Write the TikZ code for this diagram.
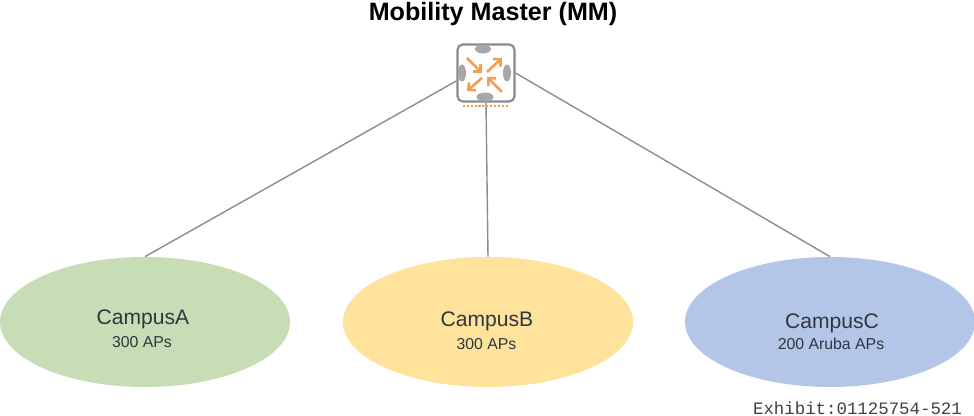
\documentclass[tikz,border=0pt]{standalone}
\usepackage{fontspec}
\setmainfont{Liberation Sans}
\newfontfamily\exhibitfont{Liberation Mono}
\usetikzlibrary{shapes.geometric}
\usetikzlibrary{arrows.meta}
\definecolor{linegray}{HTML}{8C8C8C}
\definecolor{icongray}{HTML}{8A8A8E}
\definecolor{arroworange}{HTML}{F0A050}
\definecolor{labelnavy}{HTML}{30363F}
\definecolor{campusgreen}{HTML}{C6DDB6}
\definecolor{campusyellow}{HTML}{FFE39C}
\definecolor{campusblue}{HTML}{B4C6E7}
\tikzset{campus/.style={ellipse, minimum width = 5.8cm, minimum height = 2.6cm, inner sep = 0pt},
  link/.style={draw = linegray, line width = 0.8pt},
  mainlabel/.style={text = labelnavy, font = \fontsize{12}{14}\selectfont},
  sublabel/.style={text = labelnavy, font = \fontsize{9}{11}\selectfont},
  antenna/.style={fill = icongray!75},
  flow/.style={draw = arroworange, line width = 1.5pt, -{Straight Barb[length=3pt,width=6pt]}}}

\begin{document}
\begin{tikzpicture}
	\useasboundingbox (0,0) rectangle (19.48,8.32);

	\node[campus, fill = campusgreen] (campusA) at (2.9, 1.88) {};
	\node[campus, fill = campusyellow] (campusB) at (9.76, 1.88) {};
	\node[campus, fill = campusblue] (campusC) at (16.6, 1.88) {};

	\node[draw = icongray, line width = 1.2pt, rounded corners = 3pt, fill = white, minimum size = 1.14cm, inner sep = 0pt] (mm) at (9.72, 6.86) {};

	\draw[link] (mm.195) -- (campusA.north);
	\draw[link] (mm.south) -- (campusB.north);
	\draw[link] (mm.east) -- (campusC.north);

	% icon on the switch
	\fill[antenna] (9.66, 7.34) ellipse (0.16 and 0.09);
	\fill[antenna] (9.7, 6.38) ellipse (0.17 and 0.09);
	\fill[antenna] (9.24, 6.86) ellipse (0.08 and 0.17);
	\fill[antenna] (10.14, 6.86) ellipse (0.08 and 0.17);
	\draw[flow] (9.34, 7.16) -- (9.64, 6.86);
	\draw[flow] (9.74, 6.88) -- (10.04, 7.16);
	\draw[flow] (9.64, 6.76) -- (9.34, 6.5);
	\draw[flow] (10.04, 6.48) -- (9.74, 6.78);
	\draw[arroworange, line width = 1.2pt, densely dotted] (9.26, 6.2) -- (10.16, 6.2);

	\node[font = \bfseries\fontsize{14.3}{16}\selectfont, text = black] (title) at (9.86, 8.03) {Mobility Master (MM)};

	\node[mainlabel] (nameA) at (2.86, 1.94) {CampusA};
	\node[sublabel] (sizeA) at (2.84, 1.47) {300 APs};
	\node[mainlabel] (nameB) at (9.74, 1.9) {CampusB};
	\node[sublabel] (sizeB) at (9.73, 1.44) {300 APs};
	\node[mainlabel] (nameC) at (16.64, 1.86) {CampusC};
	\node[sublabel] (sizeC) at (16.62, 1.44) {200 Aruba APs};

	\node[font = \exhibitfont\fontsize{9.9}{11}\selectfont, text = black!75] (exhibit) at (17.15, 0.16) {Exhibit:01125754-521};
\end{tikzpicture}
\end{document}
